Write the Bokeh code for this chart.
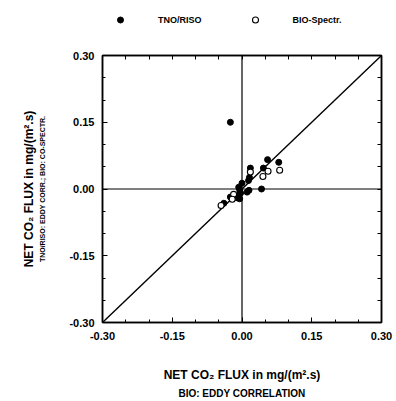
from bokeh.plotting import figure
from bokeh.layouts import column
from bokeh.models import (LinearAxis, FixedTicker, SingleIntervalTicker, Span, Legend,
                          LegendItem, Range1d, NumeralTickFormatter)
from bokeh.embed import file_html
from bokeh.resources import INLINE

# ---- data ----
tno_x = [-0.025, 0.055, 0.079, 0.018, 0.046, 0.016, 0.014, 0.000, 0.042, -0.007,
         -0.005, -0.003, -0.009, -0.010, -0.005, 0.011, 0.015, -0.025, -0.039]
tno_y = [0.150, 0.066, 0.060, 0.047, 0.047, 0.026, 0.019, 0.013, 0.000, 0.004,
         -0.003, -0.009, -0.015, -0.020, -0.022, -0.007, -0.003, -0.018, -0.032]
bio_x = [0.081, 0.056, 0.045, 0.018, -0.018, -0.045, -0.021]
bio_y = [0.042, 0.040, 0.028, 0.038, -0.012, -0.037, -0.023]
one_to_one = [-0.30, 0.30]
axis_min, axis_max = -0.30, 0.30
tick_step = 0.15
mirror_ticks = [-0.30, -0.25, -0.20, -0.15, -0.10, -0.05, 0.0,
                0.05, 0.10, 0.15, 0.20, 0.25, 0.30]

series_names = ["TNO/RISO", "BIO-Spectr."]
x_title = "NET CO\u2082 FLUX in mg/(m\u00b2.s)"
x_subtitle = "BIO: EDDY CORRELATION"
y_title = "NET CO\u2082 FLUX in mg/(m\u00b2.s)"
y_subtitle = "TNO/RISO: EDDY CORR.; BIO: CO-SPECTR."

FONT = "Liberation Sans"
W, H_LEG, H_MAIN = 396, 38, 363
NAN = float("nan")

tno_style = dict(marker="circle", size=6, fill_color="black", line_color="black")
bio_style = dict(marker="circle", size=6, fill_color="white", line_color="black",
                 line_width=1.1)

# ---------------- main scatter plot ----------------
p = figure(width=W, height=H_MAIN, output_backend="svg", toolbar_location=None,
           x_range=Range1d(axis_min, axis_max), y_range=Range1d(axis_min, axis_max),
           min_border_left=102, min_border_right=15, min_border_top=17,
           min_border_bottom=79)
p.background_fill_color = "white"
p.border_fill_color = "white"
p.outline_line_color = "black"
p.outline_line_width = 1.5
p.xgrid.visible = False
p.ygrid.visible = False


def style_axis(ax):
    ax.ticker = SingleIntervalTicker(interval=tick_step, num_minor_ticks=3)
    ax.formatter = NumeralTickFormatter(format="0.00")
    ax.axis_line_color = "black"
    ax.axis_line_width = 1.5
    ax.major_tick_in = 5
    ax.major_tick_out = 0
    ax.minor_tick_in = 3
    ax.minor_tick_out = 0
    ax.major_tick_line_color = "black"
    ax.minor_tick_line_color = "black"
    ax.major_label_text_font = FONT
    ax.major_label_text_font_style = "bold"
    ax.major_label_text_color = "black"
    ax.major_label_text_font_size = "11px"
    ax.axis_label_text_font = FONT
    ax.axis_label_text_font_style = "bold"
    ax.axis_label_text_color = "black"


def mirror_axis():
    return LinearAxis(ticker=FixedTicker(ticks=[], minor_ticks=mirror_ticks),
                      axis_line_color="black", axis_line_width=1.5,
                      major_tick_in=0, major_tick_out=0,
                      minor_tick_in=4, minor_tick_out=0,
                      minor_tick_line_color="black")


def title_axis(text, size, standoff):
    return LinearAxis(ticker=FixedTicker(ticks=[]), axis_line_color=None,
                      axis_label=text, axis_label_text_font=FONT,
                      axis_label_text_font_style="bold", axis_label_text_font_size=size,
                      axis_label_text_color="black", axis_label_standoff=standoff,
                      major_tick_out=0, major_tick_in=0, minor_tick_out=0,
                      minor_tick_in=0)


# inner axes (ticks + tick labels)
xa = p.xaxis[0]
ya = p.yaxis[0]
style_axis(xa)
style_axis(ya)
xa.major_label_standoff = 9
xa.axis_label = x_title
xa.axis_label_text_font_size = "12px"
xa.axis_label_standoff = 25
ya.major_label_standoff = 8
ya.axis_label = y_subtitle
ya.axis_label_text_font_size = "7px"
ya.axis_label_standoff = 20

# outer title-only axes
p.add_layout(title_axis(x_subtitle, "10px", 3), "below")
p.add_layout(title_axis(y_title, "12px", 1), "left")

# mirror axes with inward ticks
p.add_layout(mirror_axis(), "right")
p.add_layout(mirror_axis(), "above")

# zero lines and 1:1 line
p.add_layout(Span(location=0, dimension="height", line_color="black", line_width=1.2))
p.add_layout(Span(location=0, dimension="width", line_color="black", line_width=1.2))
p.line(one_to_one, one_to_one, line_color="black", line_width=1.4)

p.scatter(tno_x, tno_y, **tno_style)
p.scatter(bio_x, bio_y, **bio_style)

# ---------------- legend strip above the plot ----------------
lg = figure(width=W, height=H_LEG, output_backend="svg", toolbar_location=None,
            x_range=Range1d(0, 1), y_range=Range1d(0, 1),
            x_axis_location=None, y_axis_location=None,
            min_border=0, min_border_left=0, min_border_right=0,
            min_border_top=0, min_border_bottom=0)
lg.outline_line_color = None
lg.xgrid.visible = False
lg.ygrid.visible = False
# proxy renderers (no visible points) that only supply the legend glyphs
k1 = lg.scatter(x=[NAN], y=[NAN], **tno_style)
k2 = lg.scatter(x=[NAN], y=[NAN], **bio_style)
legend = Legend(items=[LegendItem(label=series_names[0], renderers=[k1]),
                       LegendItem(label=series_names[1], renderers=[k2])],
                orientation="horizontal", location=(8, 11), margin=0, padding=0,
                border_line_color=None, background_fill_alpha=0,
                glyph_width=20, glyph_height=15, label_standoff=28, spacing=43,
                label_text_font=FONT, label_text_font_style="bold",
                label_text_font_size="9px", label_text_color="black")
lg.add_layout(legend, "center")

layout = column(lg, p, spacing=0)
open("out.html", "w").write(file_html(layout, INLINE))
